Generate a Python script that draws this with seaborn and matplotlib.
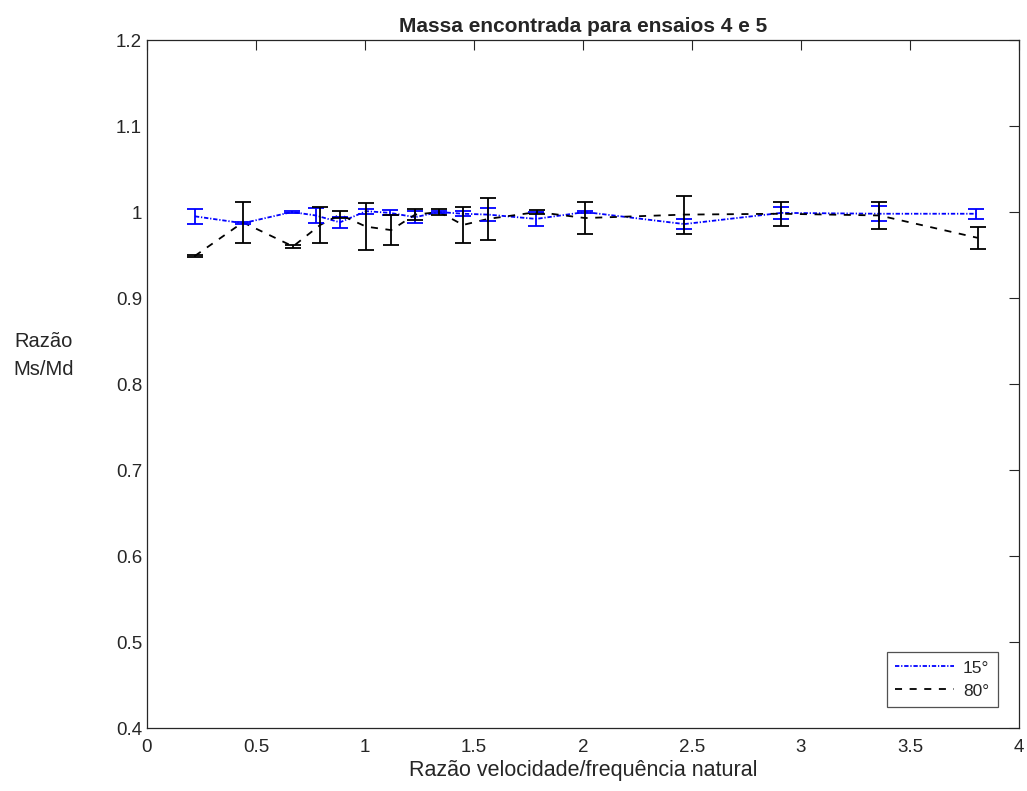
import matplotlib
matplotlib.use("Agg")
import matplotlib.pyplot as plt
import numpy as np
import pandas as pd
import seaborn as sns
from matplotlib.ticker import FuncFormatter

# Data
x15 = [0.22, 0.44, 0.665, 0.775, 0.885, 1.005, 1.115, 1.23, 1.34, 1.45, 1.565, 1.785, 2.01, 2.465, 2.91, 3.36, 3.805]
y15 = [0.995, 0.987, 1.000, 0.996, 0.988, 1.001, 0.999, 0.994, 1.000, 0.998, 0.997, 0.992, 1.000, 0.986, 0.999, 0.998, 0.998]
e15 = [0.009, 0.001, 0.001, 0.009, 0.006, 0.003, 0.003, 0.007, 0.001, 0.003, 0.008, 0.008, 0.001, 0.006, 0.007, 0.009, 0.006]

x80 = [0.22, 0.44, 0.67, 0.795, 0.885, 1.005, 1.12, 1.23, 1.34, 1.45, 1.565, 1.79, 2.01, 2.465, 2.91, 3.36, 3.81]
y80 = [0.949, 0.988, 0.960, 0.985, 0.997, 0.983, 0.979, 0.997, 1.000, 0.985, 0.992, 1.000, 0.993, 0.997, 0.998, 0.996, 0.970]
e80 = [0.001, 0.024, 0.002, 0.021, 0.004, 0.027, 0.017, 0.006, 0.003, 0.021, 0.024, 0.002, 0.019, 0.022, 0.014, 0.016, 0.0125]

labels = ["15°", "80°"]

sns.set_style("white")
plt.rcParams['font.family'] = ['Liberation Sans', 'DejaVu Sans']

df15 = pd.DataFrame({"x": x15, "y": y15})
df80 = pd.DataFrame({"x": x80, "y": y80})

fig = plt.figure(figsize=(10.27, 7.91), dpi=100)
ax = fig.add_axes([0.1431, 0.0796, 0.8491, 0.8698])

sns.lineplot(data=df15, x="x", y="y", ax=ax, color="blue",
             linestyle=(0, (2.4, 1.0, 0.7, 1.0)),
             linewidth=1.3, label=labels[0], sort=False)
sns.lineplot(data=df80, x="x", y="y", ax=ax, color="black",
             linestyle=(0, (3.9, 4.2)),
             linewidth=1.3, label=labels[1], sort=False)
ax.errorbar(x15, y15, yerr=e15, fmt="none", ecolor="blue", elinewidth=1.3,
            capsize=6, capthick=1.3)
ax.errorbar(x80, y80, yerr=e80, fmt="none", ecolor="black", elinewidth=1.3,
            capsize=6, capthick=1.3)

ax.set_xlim(0, 4)
ax.set_ylim(0.4, 1.2)
ax.set_xticks(np.arange(0, 4.01, 0.5))
ax.set_yticks(np.arange(0.4, 1.201, 0.1))
fmt = FuncFormatter(lambda v, p: "%g" % round(v, 2))
ax.xaxis.set_major_formatter(fmt)
ax.yaxis.set_major_formatter(fmt)
ax.tick_params(direction="in", length=7, width=0.8, colors="#262626",
               labelsize=13.5, top=True, right=True, labelcolor="#262626")
ax.tick_params(axis="x", pad=8)
for s in ax.spines.values():
    s.set_color("#262626")
    s.set_linewidth(0.9)

ax.set_xlabel("Razão velocidade/frequência natural", fontsize=15.5,
              color="#262626", labelpad=3)
ax.set_ylabel("Razão\nMs/Md", fontsize=14.5, rotation=0, color="#262626",
              ha="center", va="center", linespacing=1.6)
ax.yaxis.set_label_coords(-0.119, 0.542)
ax.set_title("Massa encontrada para ensaios 4 e 5", fontsize=15,
             fontweight="bold", pad=6)

leg = ax.legend(loc="lower right", fontsize=12.5, frameon=True, fancybox=False,
                edgecolor="#262626", handlelength=3.4, handletextpad=0.5,
                labelspacing=0.45, borderpad=0.5, borderaxespad=1.2)
leg.get_frame().set_linewidth(0.9)

fig.savefig("out.png", dpi=100)
plt.close("all")
